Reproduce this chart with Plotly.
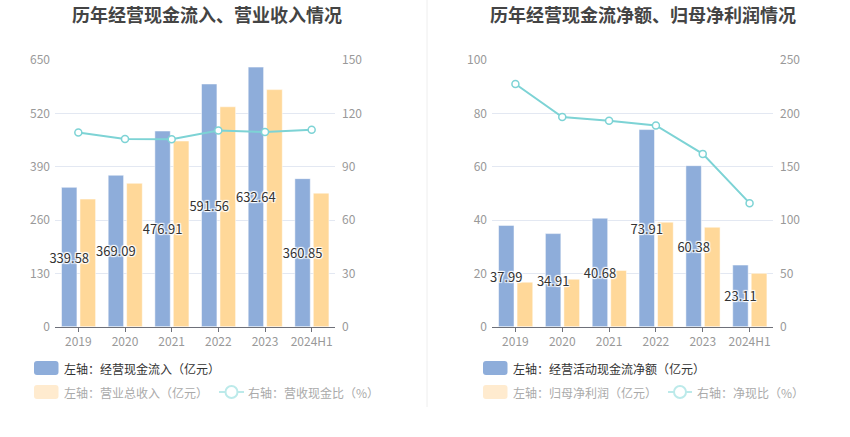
import plotly.graph_objects as go

W, H = 850, 437

years = ["2019", "2020", "2021", "2022", "2023", "2024H1"]

# Left chart
cash_inflow = [339.58, 369.09, 476.91, 591.56, 632.64, 360.85]
revenue = [311.0, 349.5, 452.5, 536.0, 577.8, 325.5]
cash_rev_ratio = [109.2, 105.6, 105.4, 110.4, 109.5, 110.8]

# Right chart
op_cash_net = [37.99, 34.91, 40.68, 73.91, 60.38, 23.11]
net_profit = [16.7, 17.8, 21.1, 39.2, 37.3, 20.0]
net_cash_ratio = [227.5, 196.5, 193.0, 188.6, 162.0, 115.8]

left_ticks = [0, 130, 260, 390, 520, 650]
left_ticks_r = [0, 30, 60, 90, 120, 150]
right_ticks = [0, 20, 40, 60, 80, 100]
right_ticks_r = [0, 50, 100, 150, 200, 250]

BLUE = "#8EADDA"
YELLOW = "#FFD899"
TEAL = "#7DD3D5"
FONT = "Noto Sans CJK SC, Noto Sans, sans-serif"
SHADOW = "1px 1px 1px #fff, -1px -1px 1px #fff, 1px -1px 1px #fff, -1px 1px 1px #fff, 0 0 2px #fff"


def px(x):
    return x / W


def py(y):
    return 1 - y / H


fig = go.Figure()


def add_chart(xa, ya, ya2, bars1, bars2, line, n1, n2, n3):
    fig.add_trace(go.Bar(
        x=years, y=bars2, name=n2, xaxis=xa, yaxis=ya,
        marker=dict(color=YELLOW, line=dict(color="#ffffff", width=0.5)),
        showlegend=False, offset=0.035, width=0.335,
    ))
    fig.add_trace(go.Bar(
        x=years, y=bars1, name=n1, xaxis=xa, yaxis=ya,
        marker=dict(color=BLUE, line=dict(color="#ffffff", width=0.5)),
        text=[f"{v:.2f}" for v in bars1], textposition="inside",
        insidetextanchor="middle", textangle=0, constraintext="none",
        textfont=dict(color="#333333", size=13, family=FONT, shadow=SHADOW),
        cliponaxis=False, showlegend=False, offset=-0.36, width=0.33,
    ))
    fig.add_trace(go.Scatter(
        x=years, y=line, name=n3, xaxis=xa, yaxis=ya2, mode="lines+markers",
        line=dict(color=TEAL, width=2),
        marker=dict(symbol="circle", size=7, color="#ffffff",
                    line=dict(color=TEAL, width=1.5)),
        showlegend=False, cliponaxis=False,
    ))


add_chart("x", "y", "y2", cash_inflow, revenue, cash_rev_ratio,
          "左轴：经营现金流入（亿元）", "左轴：营业总收入（亿元）", "右轴：营收现金比（%）")
add_chart("x2", "y3", "y4", op_cash_net, net_profit, net_cash_ratio,
          "左轴：经营活动现金流净额（亿元）", "左轴：归母净利润（亿元）", "右轴：净现比（%）")

ydom = [py(326.7), py(60)]
tickfont = dict(color="#999999", size=12, family=FONT)
grid = "#E3E8F2"

xcommon = dict(type="category", showgrid=False, showline=True, linecolor="#6E7079",
               linewidth=1, ticks="outside", ticklen=4, tickcolor="#6E7079",
               tickfont=tickfont, zeroline=False, automargin=False)


def yleft(ticks, dom, anchor):
    return dict(domain=dom, range=[ticks[0], ticks[-1]], tickvals=ticks, showgrid=True,
                gridcolor=grid, gridwidth=1, zeroline=False, showline=False,
                tickfont=tickfont, anchor=anchor, ticklabelstandoff=4, automargin=False)


def yright(ticks, over, anchor):
    return dict(overlaying=over, side="right", range=[ticks[0], ticks[-1]], tickvals=ticks,
                showgrid=False, zeroline=False, showline=False, tickfont=tickfont,
                anchor=anchor, ticklabelstandoff=6, automargin=False)


fig.update_layout(
    template="none",
    width=W, height=H,
    margin=dict(l=0, r=0, t=0, b=0, pad=0, autoexpand=False),
    paper_bgcolor="#ffffff", plot_bgcolor="#ffffff",
    barmode="overlay",
    font=dict(family=FONT),
    showlegend=False,
    xaxis=dict(domain=[px(55), px(335)], anchor="y", **xcommon),
    xaxis2=dict(domain=[px(492), px(773)], anchor="y3", **xcommon),
    yaxis=yleft(left_ticks, ydom, "x"),
    yaxis2=yright(left_ticks_r, "y", "x"),
    yaxis3=yleft(right_ticks, ydom, "x2"),
    yaxis4=yright(right_ticks_r, "y3", "x2"),
)

# Titles
for cx, txt in [(207, "历年经营现金流入、营业收入情况"), (643, "历年经营现金流净额、归母净利润情况")]:
    fig.add_annotation(x=px(cx), y=py(14), xref="paper", yref="paper", text=f"<b>{txt}</b>",
                       showarrow=False, xanchor="center", yanchor="middle",
                       font=dict(size=18, color="#444444", family=FONT))

# Separator
fig.add_shape(type="line", xref="paper", yref="paper", x0=px(427), x1=px(427), y0=py(0), y1=py(407),
              line=dict(color="#EEEEEE", width=1))


def rrect(x0, y0, x1, y1, r, color):
    p = (f"M {px(x0 + r)} {py(y0)} L {px(x1 - r)} {py(y0)} Q {px(x1)} {py(y0)} {px(x1)} {py(y0 + r)} "
         f"L {px(x1)} {py(y1 - r)} Q {px(x1)} {py(y1)} {px(x1 - r)} {py(y1)} "
         f"L {px(x0 + r)} {py(y1)} Q {px(x0)} {py(y1)} {px(x0)} {py(y1 - r)} "
         f"L {px(x0)} {py(y0 + r)} Q {px(x0)} {py(y0)} {px(x0 + r)} {py(y0)} Z")
    fig.add_shape(type="path", xref="paper", yref="paper", path=p,
                  fillcolor=color, line=dict(width=0))


def legend_text(x, y, txt, color):
    fig.add_annotation(x=px(x), y=py(y), xref="paper", yref="paper", text=txt, showarrow=False,
                       xanchor="left", yanchor="middle", font=dict(size=12, color=color, family=FONT))


def line_icon(x0, x1, y, color):
    fig.add_shape(type="line", xref="paper", yref="paper", x0=px(x0), x1=px(x1), y0=py(y), y1=py(y),
                  line=dict(color=color, width=2))
    cx = (x0 + x1) / 2
    fig.add_shape(type="circle", xref="paper", yref="paper", x0=px(cx - 6), x1=px(cx + 6),
                  y0=py(y - 6), y1=py(y + 6), fillcolor="#ffffff", line=dict(color=color, width=2))


FADE_TXT = "#AAAAAA"
FADE_Y = "#FFEBCF"
FADE_T = "#BCEAEA"

# Left legend
rrect(34, 361, 58.5, 375, 3, BLUE)
legend_text(62, 368, "左轴：经营现金流入（亿元）", "#333333")
rrect(34, 385, 58.5, 399, 3, FADE_Y)
legend_text(62, 392, "左轴：营业总收入（亿元）", FADE_TXT)
line_icon(219, 244, 392, FADE_T)
legend_text(246, 392, "右轴：营收现金比（%）", FADE_TXT)

# Right legend
rrect(483, 361, 507.5, 375, 3, BLUE)
legend_text(511, 368, "左轴：经营活动现金流净额（亿元）", "#333333")
rrect(483, 385, 507.5, 399, 3, FADE_Y)
legend_text(511, 392, "左轴：归母净利润（亿元）", FADE_TXT)
line_icon(668, 692, 392, FADE_T)
legend_text(695, 392, "右轴：净现比（%）", FADE_TXT)

fig.write_html(
    "out.html",
    config={"displayModeBar": False},
    post_script="document.body.style.margin='0px';document.body.style.padding='0px';",
)
